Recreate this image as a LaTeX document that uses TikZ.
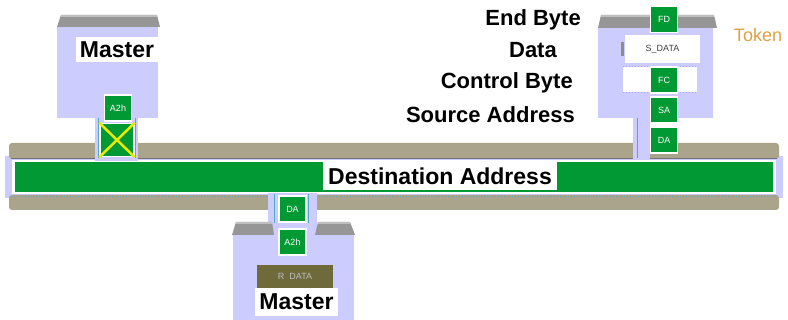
\documentclass[tikz,border=0pt]{standalone}
\usepackage{fontspec}
\setmainfont{Liberation Sans}
\definecolor{busTan}{RGB}{170,164,140}
\definecolor{busGreen}{RGB}{0,153,51}
\definecolor{lav}{RGB}{204,204,255}
\definecolor{hdrGray}{RGB}{150,150,150}
\definecolor{hdrLight}{RGB}{190,190,190}
\definecolor{oliveBox}{RGB}{110,106,60}
\definecolor{tokOrange}{RGB}{224,160,64}
\definecolor{edgeCyan}{RGB}{80,170,200}
\definecolor{xYellow}{RGB}{235,235,0}
\begin{document}
\begin{tikzpicture}[x=1pt,y=-1pt,
  tok/.style={draw=white, line width=1.5pt, fill=busGreen, minimum width=27pt, minimum height=26pt, inner sep=0pt, text=white, font=\fontsize{9}{9}\selectfont},
  lbl/.style={font=\bfseries\fontsize{22}{22}\selectfont, inner sep=0pt},
  mlabel/.style={fill=white, font=\bfseries\fontsize{23}{23}\selectfont, inner sep=0pt},
  body/.style={fill=lav},
  hdr/.style={fill=hdrGray},
  neck/.style={fill=lav},
  edgeline/.style={draw=edgeCyan, line width=0.8pt}
]
\useasboundingbox (0,0) rectangle (788,320);
\fill[white] (0,0) rectangle (788,320);

% ---- bus ----
\fill[lav] (5,156) rectangle (783,198);
\fill[busTan, rounded corners=3pt] (9,143) rectangle (779,159);
\fill[busTan, rounded corners=3pt] (9,195) rectangle (779,210);
\draw[black!55, line width=0.8pt] (11,158) -- (777,158);
\draw[edgeCyan, dotted, line width=0.8pt] (11,196) -- (777,196);
\fill[white] (12,160) rectangle (776,194);
\node[fill=busGreen, minimum width=758pt, minimum height=30pt, inner sep=0pt] (bus) at (394,177) {};
\node[mlabel, minimum width=234pt, minimum height=28pt] (dest) at (440,176) {Destination Address};

% ---- top-left master ----
\fill[hdr] (61,15) -- (157,15) -- (160,27) -- (57,27) -- cycle;
\fill[hdrLight] (61,15) rectangle (157,17);
\node[body, minimum width=101pt, minimum height=91pt, inner sep=0pt] (m1) at (107.5,72.5) {};
\node[mlabel, minimum width=82pt, minimum height=25pt] (m1lbl) at (117,50) {Master};
\fill[neck] (95,117) rectangle (138,161);
\draw[edgeline] (98,118) -- (98,158);
\draw[edgeline] (135,118) -- (135,158);
\node[tok, minimum width=34pt, minimum height=33pt] (blocked) at (117,140) {};
\draw[xYellow, line width=2.5pt] (blocked.north west) -- (blocked.south east);
\draw[xYellow, line width=2.5pt] (blocked.north east) -- (blocked.south west);
\node[tok] (a2hTop) at (118,108) {A2h};

% ---- top-right master ----
\fill[hdr] (601,15) -- (714,15) -- (717,28) -- (598,28) -- cycle;
\fill[hdrLight] (601,15) rectangle (714,17);
\node[body, minimum width=115pt, minimum height=90pt, inner sep=0pt] (m2) at (655.5,73) {};
\fill[neck] (633,117) rectangle (650,159);
\draw[edgeline] (637,118) -- (637,158);
\node[fill=white, minimum width=75pt, minimum height=28pt, inner sep=0pt, text=black!75, font=\fontsize{9}{9}\selectfont] (sdata) at (662.5,49) {S\_DATA};
\fill[black!45] (621,42) rectangle (624,56);
\node[fill=white, minimum width=74pt, minimum height=25pt, inner sep=0pt] (fcghost) at (660,79.5) {};
\draw[lav!80!blue, dotted, line width=1pt] (fcghost.north west) -- (fcghost.north east);
\draw[lav!80!blue, dotted, line width=1pt] (fcghost.south west) -- (fcghost.south east);
\node[tok] (fd) at (664,19.5) {FD};
\node[tok] (fc) at (664,80) {FC};
\node[tok] (sa) at (664,110) {SA};
\node[tok] (daTop) at (664,140) {DA};

% ---- labels ----
\node[lbl, anchor=east] (lend) at (581,20) {End Byte};
\node[lbl, anchor=east] (ldata) at (557,50) {Data};
\node[lbl, anchor=east] (lctrl) at (573,83) {Control Byte};
\node[lbl, anchor=east] (lsrc) at (575,115) {Source Address};
\node[text=tokOrange, font=\fontsize{18}{18}\selectfont, inner sep=0pt] (token) at (758,35) {Token};

% ---- bottom master ----
\fill[neck] (268,193) rectangle (317,236);
\draw[edgeline] (274,194) -- (274,223);
\draw[edgeline] (308,194) -- (308,223);
\fill[hdr] (236,222) -- (272,222) -- (274,235) -- (232,235) -- cycle;
\fill[hdr] (318,222) -- (350,222) -- (355,235) -- (315,235) -- cycle;
\fill[hdrLight] (236,222) rectangle (272,224);
\fill[hdrLight] (318,222) rectangle (350,224);
\node[body, minimum width=121pt, minimum height=85pt, inner sep=0pt] (m3) at (293.5,277.5) {};
\node[tok] (daBot) at (292.5,209) {DA};
\node[tok] (a2hBot) at (292.5,242) {A2h};
\node[fill=oliveBox, minimum width=76pt, minimum height=23pt, inner sep=0pt, text=hdrLight, font=\fontsize{9}{9}\selectfont] (rdata) at (295,276.5) {R\ \ DATA};
\node[mlabel, minimum width=83pt, minimum height=28pt] (m3lbl) at (296.5,302) {Master};
\end{tikzpicture}
\end{document}
